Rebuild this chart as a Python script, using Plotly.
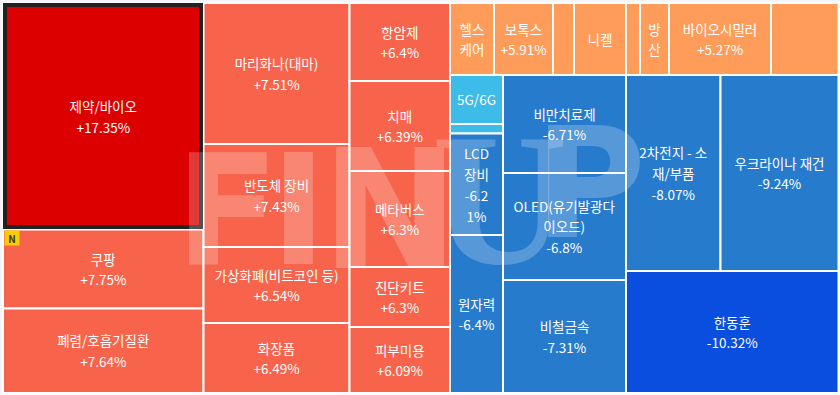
import plotly.graph_objects as go

# Leaf data: name lines, change text, cell area (px^2)
col1_names = ["제약/바이오<br>+17.35%", "쿠팡<br>+7.75%", "폐렴/호흡기질환<br>+7.64%"]
col1_areas = [45413, 15840, 16942]
col2_names = ["마리화나(대마)<br>+7.51%", "반도체 장비<br>+7.43%", "가상화폐(비트코인 등)<br>+6.54%", "화장품<br>+6.49%"]
col2_areas = [20586, 15038, 11096, 10220]
col3_names = ["항암제<br>+6.4%", "치매<br>+6.39%", "메타버스<br>+6.3%", "진단키트<br>+6.3%", "피부미용<br>+6.09%"]
col3_areas = [7839, 9045, 9648, 6030, 6633]
top_names = ["헬스<br>케어", "보톡스<br>+5.91%", "", "니켈", "", "방<br>산", "바이오시밀러<br>+5.27%", ""]
top_areas = [3168, 4248, 1512, 3744, 1008, 2088, 7344, 4860]
a_names = ["5G/6G", "", "LCD<br>장비<br>-6.2<br>1%", "원자력<br>-6.4%"]
a_areas = [2597, 504, 5380, 8374]
b_names = ["비만치료제<br>-6.71%", "OLED(유기발광다<br>이오드)<br>-6.8%", "비철금속<br>-7.31%"]
b_areas = [12054, 13161, 13899]
c_top_names = ["2차전지 - 소<br>재/부품<br>-8.07%", "우크라이나 재건<br>-9.24%"]
c_top_areas = [18522, 23128]
c_bot_names = ["한동훈<br>-10.32%"]
c_bot_areas = [25925]

RED, CORAL, ORANGE, BLUE, SKY, DEEP = "#dc0000", "#f7644b", "#ff9c5a", "#277bcd", "#3dbcea", "#0a4ee0"
BG = "#f4f6fb"
SPAN = '<span style="font-size:13.5px">'

ids, parents, values, texts, colors, lw, lc = [], [], [], [], [], [], []

def node(i, p):
    ids.append(i); parents.append(p); values.append(0); texts.append("")
    colors.append(BG); lw.append(0); lc.append(BG)

def leaves(p, names, areas, cols):
    for k, (n, a) in enumerate(zip(names, areas)):
        c = cols[k] if isinstance(cols, list) else cols
        ids.append(f"{p}-{k}"); parents.append(p); values.append(a)
        texts.append(SPAN + n.replace("<br>", "</span><br>" + SPAN) + "</span>" if n else "")
        colors.append(c); lw.append(2); lc.append("#ffffff")

node("root", "")
for c in ["c1", "c2", "c3", "right"]:
    node(c, "root")
node("top", "right"); node("low", "right")
node("a", "low"); node("b", "low"); node("c", "low")
node("ctop", "c")

leaves("c1", col1_names, col1_areas, CORAL)
colors[-3] = RED
leaves("c2", col2_names, col2_areas, CORAL)
leaves("c3", col3_names, col3_areas, CORAL)
leaves("top", top_names, top_areas, ORANGE)
leaves("a", a_names, a_areas, [SKY, SKY, BLUE, BLUE])
leaves("b", b_names, b_areas, BLUE)
leaves("ctop", c_top_names, c_top_areas, BLUE)
leaves("c", c_bot_names, c_bot_areas, DEEP)

fig = go.Figure(go.Treemap(
    ids=ids, labels=ids, parents=parents, values=values, branchvalues="remainder",
    text=texts, textinfo="text", sort=False,
    tiling=dict(packing="slice-dice", pad=0),
    pathbar=dict(visible=False),
    marker=dict(colors=colors, line=dict(width=lw, color=lc), pad=dict(t=0, l=0, r=0, b=0), depthfade=False),
    textposition="middle center",
    textfont=dict(family="Noto Sans CJK KR", size=16.15, color="#ffffff"),
    hoverinfo="skip",
    domain=dict(x=[3 / 840, 838.5 / 840], y=[2 / 395, 392 / 395]),
))

WM = "rgba(255,255,255,0.22)"

def px(x):
    return x / 840

def py(y):
    return 1 - y / 395

def wm(ch, x, y, size, family="DejaVu Sans"):
    return dict(text=ch, x=px(x), y=py(y), xref="paper", yref="paper", xanchor="center", yanchor="middle",
                showarrow=False, font=dict(family=family, size=size, color=WM, weight="bold"))

fig.update_layout(
    width=840, height=395, margin=dict(l=0, r=0, t=0, b=0),
    paper_bgcolor=BG, plot_bgcolor=BG, showlegend=False,
    shapes=[dict(type="rect", xref="paper", yref="paper", x0=px(5), x1=px(201), y0=py(5), y1=py(227),
                 line=dict(color="#222222", width=4), fillcolor="rgba(0,0,0,0)", layer="above")],
    annotations=[
        wm("F", 227, 211, 153), wm("I", 298, 211, 153), wm("N", 390, 211, 165),
        wm("U", 500, 199, 188, "Liberation Sans Narrow"), wm("P", 590, 184, 153),
        dict(text="<b>N</b>", x=px(4), y=py(230), xref="paper", yref="paper", xanchor="left", yanchor="top",
             showarrow=False, bgcolor="#ffcc00", borderpad=0, width=14, height=14,
             font=dict(family="Noto Sans CJK KR", size=10, color="#333333")),
    ],
)
fig.write_html("out.html", config={"displayModeBar": False},
               post_script="document.body.style.margin='0';document.body.style.background='#f4f6fb';")
